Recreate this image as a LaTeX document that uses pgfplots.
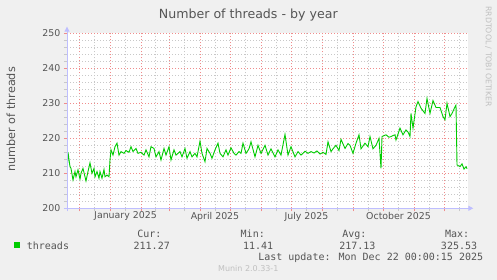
\documentclass[border=0pt]{standalone}
\usepackage{fontspec}
\setmainfont{DejaVu Sans}
\newfontfamily\monofont{DejaVu Sans Mono}
\usepackage{pgfplots}
\pgfplotsset{compat=1.18}
\usetikzlibrary{arrows.meta}
\definecolor{bgc}{HTML}{F0F0F0}
\definecolor{txt}{HTML}{555555}
\definecolor{mgrid}{HTML}{F08C8C}
\definecolor{ngrid}{HTML}{C8C8C8}
\definecolor{axc}{RGB}{190,190,255}
\definecolor{lc}{HTML}{00CC00}
\definecolor{wm}{HTML}{C0C0C0}
\begin{document}
\begin{tikzpicture}
\path[use as bounding box, fill=bgc] (0,0) rectangle (497bp,280bp);
\begin{axis}[
  at={(67bp,71.7bp)}, anchor=south west, scale only axis,
  width=401bp, height=175bp,
  xmin=-43, xmax=358, ymin=200, ymax=250,
  axis background/.style={fill=white},
  axis line style={draw=none},
  tick pos=left,
  tick align=outside, major tick length=3bp, minor tick length=3bp,
  xtick={-31,0,31,59,90,120,151,181,212,243,273,304,334},
  xticklabels={,,,,,,,,,,,,},
  minor xtick={-15.5,15.5,45,74.5,105,135.5,166,196.5,227.5,258,288.5,319,349.5},
  extra x ticks={15.5,105,196.5,288.5},
  extra x tick labels={January 2025,April 2025,July 2025,October 2025},
  extra x tick style={major tick length=0pt, grid=none},
  ytick={200,210,...,250},
  minor y tick num=4,
  grid=both,
  major grid style={draw=mgrid, line width=0.6bp, dash pattern=on 1bp off 2bp},
  minor grid style={draw=ngrid, line width=0.6bp, dash pattern=on 1bp off 2bp},
  major tick style={draw=mgrid},
  minor tick style={draw=ngrid},
  ticklabel style={font=\fontsize{9.4bp}{11bp}\selectfont, text=txt, inner sep=0pt},
  yticklabel style={anchor=east, xshift=-3.5bp},
  xticklabel style={anchor=north, yshift=-3.5bp},
  /pgf/number format/assume math mode=true,
]
\addplot[lc, line width=0.9bp] coordinates {
(-43,209.5) (-42,216) (-40,211.9) (-39,211.4) (-37,208.1) (-35,210.5) (-34,209) (-32,211) (-30,208.3) (-29,210) (-27,211.4) (-25,209) (-24,207.8) (-22,210.5) (-20,213) (-18,210) (-16,211.4) (-15,209) (-13,210.5) (-11,208.6) (-10,210.5) (-8,208.6) (-6,211.1) (-5,209) (-3,209.5) (-1,209) (0,213.8) (1,216.7) (3,215.2) (5,217.6) (7,218.6) (9,215.2) (11,216.2) (14,215.7) (16,216.5) (19,216) (21,217.6) (23,216.2) (26,217.1) (28,215.7) (31,216) (34,215.2) (36,216.7) (39,214.7) (41,217.6) (44,217.1) (46,214.7) (49,216.2) (51,213.8) (54,217.1) (56,215.2) (59,217.6) (61,213.8) (64,216.7) (66,215.2) (70,216.2) (72,214.7) (75,217.1) (77,214.3) (80,216.2) (82,214.7) (85,215.7) (87,214.7) (90,219.2) (92,215.7) (95,213.3) (97,217.1) (100,215.7) (102,214.3) (105,216.7) (108,218.6) (110,215.7) (113,214.7) (116,216.7) (118,215.2) (121,217.3) (124,215.7) (126,215.2) (129,216.2) (131,215.7) (133,218.6) (136,215.7) (139,217) (141,219) (145,214.7) (148,218) (151,215.7) (155,218) (158,215.2) (161,217) (165,214.7) (168,216.7) (171,215.2) (175,221.1) (178,215.2) (181,217.6) (185,214.7) (188,216.2) (191,215.2) (195,216.3) (198,215.7) (201,216.2) (204,215.8) (207,216.4) (210,215.5) (213,216) (216,215.4) (218,219) (221,216.2) (223,217) (226,218) (229,216.5) (231,219.7) (235,217.1) (238,218.5) (240,218) (243,215.7) (246,218.6) (249,221) (251,217) (255,218.6) (258,217.6) (260,220.5) (263,217) (266,218) (269,220) (271,211.4) (272,220.5) (276,221) (279,220.3) (281,220.5) (283,220.8) (285,221) (286,219.5) (290,222.9) (293,221) (296,222.4) (298,221.8) (300,220.5) (301,227.1) (303,222.9) (306,229) (308,230.5) (311,228.6) (315,227.1) (317,231.4) (320,227.1) (323,230.8) (326,228.8) (330,228.8) (333,226.2) (335,225.3) (337,230) (340,226.2) (342,227.1) (345,229) (346,229.5) (347,212.4) (350,211.9) (352,212.7) (354,211.2) (356,211.9) (357,211.3)
};
\end{axis}
\draw[axc, line width=0.9bp, -{Triangle[length=5bp,width=5bp]}] (64bp,71.7bp) -- (473.3bp,71.7bp);
\draw[axc, line width=0.9bp, -{Triangle[length=5bp,width=5bp]}] (67bp,68.7bp) -- (67bp,253.3bp);
\node[anchor=base, font=\fontsize{12.6bp}{14bp}\selectfont, text=txt, inner sep=0pt] at (248.3bp,261.7bp) {Number of threads - by year};
\node[rotate=90, anchor=base, font=\fontsize{11.2bp}{13bp}\selectfont, text=txt, inner sep=0pt] at (15bp,160.8bp) {number of threads};
\node[rotate=-90, anchor=center, font=\fontsize{7.8bp}{9bp}\selectfont, text=wm, inner sep=0pt] at (488.5bp,223.5bp) {RRDTOOL / TOBI OETIKER};
\fill[lc] (14bp,31.7bp) rectangle (20bp,37.7bp);
\begin{scope}[every node/.style={font=\monofont\fontsize{10bp}{12bp}\selectfont, text=txt, inner sep=0pt}]
\node[anchor=base west] at (26.7bp,31bp) {threads};
\node[anchor=base east] at (161.7bp,42.7bp) {Cur:};
\node[anchor=base east] at (265bp,42.7bp) {Min:};
\node[anchor=base east] at (366.7bp,42.7bp) {Avg:};
\node[anchor=base east] at (469.3bp,42.7bp) {Max:};
\node[anchor=base east] at (170bp,31bp) {211.27};
\node[anchor=base east] at (273.3bp,31bp) {11.41};
\node[anchor=base east] at (375.7bp,31bp) {217.13};
\node[anchor=base east] at (477.3bp,31bp) {325.53};
\node[anchor=base east] at (483.3bp,19.4bp) {Last update: Mon Dec 22 00:00:15 2025};
\end{scope}
\node[anchor=base, font=\fontsize{8bp}{10bp}\selectfont, text=wm, inner sep=0pt] at (248.3bp,8.5bp) {Munin 2.0.33-1};
\end{tikzpicture}
\end{document}
